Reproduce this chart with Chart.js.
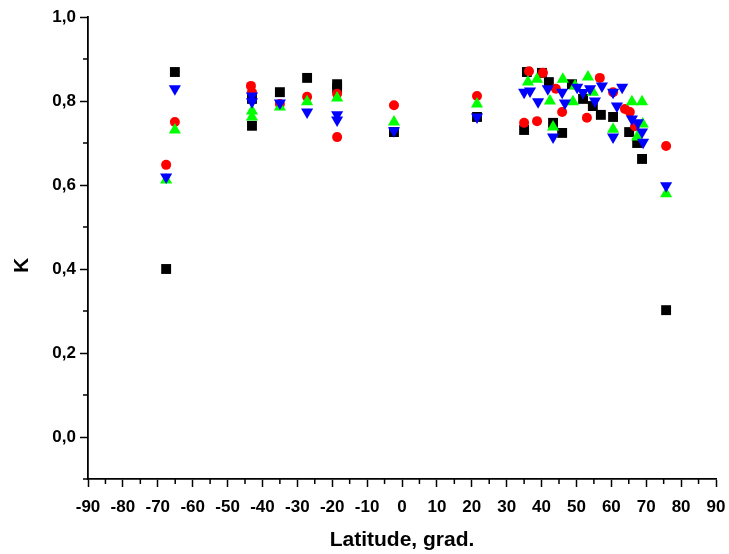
<!DOCTYPE html>
<html>
<head>
<meta charset="utf-8">
<script src="https://cdn.jsdelivr.net/npm/chart.js@4/dist/chart.umd.min.js"></script>
<style>
  html, body { margin: 0; padding: 0; background: #fff; }
  #wrap { width: 729px; height: 554px; }
</style>
</head>
<body>
<div id="wrap"><canvas id="c" width="729" height="554"></canvas></div>
<script>
// Latitude (grad.) and K values per series
const blackLat = [-67.6, -65.1, -43.0, -43.0, -35.0, -27.2, -18.6, -18.6, -2.3, 21.5, 35.0, 35.8, 40.1, 42.1, 43.3, 45.9, 48.7, 51.9, 54.7, 57.0, 60.5, 65.1, 67.4, 68.8, 75.7];
const blackK   = [0.40, 0.869, 0.805, 0.741, 0.821, 0.855, 0.840, 0.831, 0.726, 0.762, 0.731, 0.869, 0.867, 0.845, 0.748, 0.724, 0.840, 0.805, 0.788, 0.767, 0.762, 0.726, 0.700, 0.662, 0.302];

const redLat = [-67.6, -65.1, -43.3, -43.0, -35.0, -27.2, -18.6, -18.6, -2.3, 21.5, 35.0, 36.4, 40.4, 38.7, 44.1, 45.9, 53.0, 56.7, 60.5, 63.9, 65.3, 66.8, 75.7];
const redK   = [0.648, 0.750, 0.836, 0.821, 0.793, 0.810, 0.817, 0.714, 0.790, 0.812, 0.748, 0.871, 0.867, 0.752, 0.829, 0.774, 0.760, 0.855, 0.821, 0.781, 0.774, 0.740, 0.693];

const greenLat = [-67.6, -65.1, -43.0, -43.0, -35.0, -27.2, -18.6, -2.3, 21.5, 36.1, 38.7, 42.4, 46.1, 49.0, 49.6, 53.3, 54.7, 43.3, 60.5, 65.9, 68.8, 67.4, 69.0, 75.7];
const greenK   = [0.612, 0.731, 0.776, 0.762, 0.786, 0.798, 0.807, 0.750, 0.793, 0.845, 0.852, 0.800, 0.852, 0.798, 0.836, 0.857, 0.821, 0.738, 0.733, 0.798, 0.798, 0.714, 0.745, 0.579];

const blueLat = [-67.6, -65.1, -43.0, -43.0, -35.0, -27.2, -18.6, -18.6, -2.3, 21.5, 35.0, 36.7, 39.0, 41.8, 45.9, 46.7, 43.3, 50.2, 51.9, 53.9, 57.3, 55.3, 60.5, 63.1, 61.6, 60.5, 65.9, 67.6, 68.8, 69.1, 75.7];
const blueK   = [0.619, 0.829, 0.812, 0.798, 0.795, 0.774, 0.767, 0.755, 0.729, 0.762, 0.821, 0.824, 0.798, 0.829, 0.821, 0.795, 0.714, 0.833, 0.820, 0.829, 0.836, 0.800, 0.821, 0.833, 0.788, 0.714, 0.757, 0.748, 0.726, 0.702, 0.598];

const xTicks = [-90, -80, -70, -60, -50, -40, -30, -20, -10, 0, 10, 20, 30, 40, 50, 60, 70, 80, 90];
const yTicks = [0.0, 0.2, 0.4, 0.6, 0.8, 1.0];
const xMinorTicks = [-85, -75, -65, -55, -45, -35, -25, -15, -5, 5, 15, 25, 35, 45, 55, 65, 75, 85];
const yMinorTicks = [-0.1, 0.1, 0.3, 0.5, 0.7, 0.9];

function pts(xs, ys) { return xs.map((x, i) => ({ x: x, y: ys[i] })); }

const FONT = "'Liberation Sans', Arial, sans-serif";

const minorTicks = {
  id: 'minorTicks',
  afterDraw(chart) {
    const ctx = chart.ctx;
    const xs = chart.scales.x, ys = chart.scales.y;
    const area = chart.chartArea;
    ctx.save();
    ctx.strokeStyle = '#000';
    ctx.lineWidth = 1.5;
    ctx.beginPath();
    xMinorTicks.forEach(v => {
      const px = xs.getPixelForValue(v);
      ctx.moveTo(px, area.bottom);
      ctx.lineTo(px, area.bottom + 5);
    });
    yMinorTicks.forEach(v => {
      const py = ys.getPixelForValue(v);
      ctx.moveTo(area.left, py);
      ctx.lineTo(area.left - 5, py);
    });
    ctx.stroke();
    ctx.restore();
  }
};

const common = { showLine: false, pointBorderWidth: 0, pointHoverRadius: 6 };

new Chart(document.getElementById('c'), {
  type: 'scatter',
  data: {
    datasets: [
      Object.assign({ label: 'black', data: pts(blackLat, blackK), pointStyle: 'rect', pointRadius: 7, backgroundColor: '#000000', borderColor: '#000000', order: 4 }, common),
      Object.assign({ label: 'red', data: pts(redLat, redK), pointStyle: 'circle', pointRadius: 5, backgroundColor: '#ff0000', borderColor: '#ff0000', order: 3 }, common),
      Object.assign({ label: 'green', data: pts(greenLat, greenK), pointStyle: 'triangle', pointRadius: 7, backgroundColor: '#00ff00', borderColor: '#00ff00', order: 2 }, common),
      Object.assign({ label: 'blue', data: pts(blueLat, blueK), pointStyle: 'triangle', pointRotation: 180, pointRadius: 7, backgroundColor: '#0000ff', borderColor: '#0000ff', order: 1 }, common)
    ]
  },
  options: {
    responsive: false,
    animation: false,
    layout: { padding: { left: 6, top: 17, right: 13, bottom: 0 } },
    plugins: { legend: { display: false }, tooltip: { enabled: false } },
    scales: {
      x: {
        type: 'linear',
        min: -90, max: 90,
        afterBuildTicks: s => { s.ticks = xTicks.map(v => ({ value: v })); },
        afterFit: s => { s.height = 75; s.paddingRight = 0; s.paddingLeft = 0; },
        border: { display: true, color: '#000', width: 1.8 },
        grid: { drawOnChartArea: false, drawTicks: true, tickLength: 8, tickColor: '#000', tickWidth: 1.5 },
        ticks: { color: '#000', padding: 10, maxRotation: 0, autoSkip: false, font: { family: FONT, size: 17, weight: 'bold' }, callback: v => String(v) },
        title: { display: true, text: 'Latitude, grad.', color: '#000', font: { family: FONT, size: 21, weight: 'bold' }, padding: { top: 2, bottom: 1 } }
      },
      y: {
        type: 'linear',
        min: -0.1, max: 1.0,
        afterBuildTicks: s => { s.ticks = yTicks.map(v => ({ value: v })); },
        afterFit: s => { s.width = 82; s.paddingTop = 0; s.paddingBottom = 0; },
        border: { display: true, color: '#000', width: 1.8 },
        grid: { drawOnChartArea: false, drawTicks: true, tickLength: 8, tickColor: '#000', tickWidth: 1.5 },
        ticks: { color: '#000', padding: 4, autoSkip: false, font: { family: FONT, size: 17, weight: 'bold' }, callback: v => v.toFixed(1).replace('.', ',') },
        title: { display: true, text: 'K      ', color: '#000', font: { family: FONT, size: 21, weight: 'bold' }, padding: { top: 4, bottom: 4 } }
      }
    }
  },
  plugins: [minorTicks]
});
</script>
</body>
</html>
